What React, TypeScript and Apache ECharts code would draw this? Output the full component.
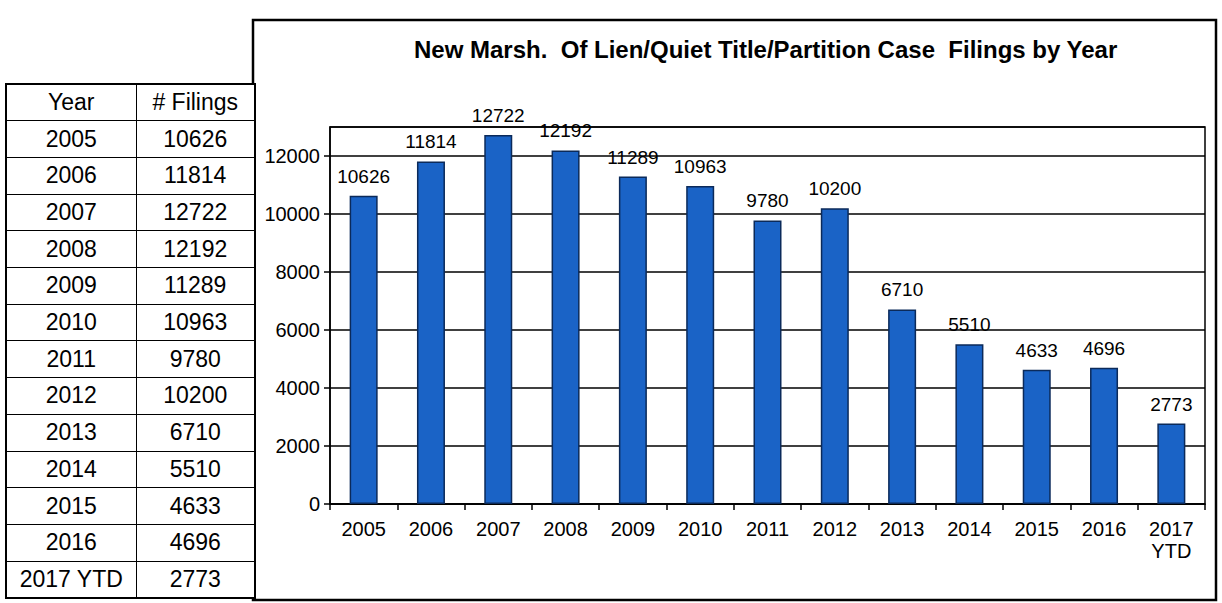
import React, { useEffect, useRef } from "react";
import * as echarts from "echarts";

const years = ["2005", "2006", "2007", "2008", "2009", "2010", "2011", "2012", "2013", "2014", "2015", "2016", "2017 YTD"];
const axisYears = ["2005", "2006", "2007", "2008", "2009", "2010", "2011", "2012", "2013", "2014", "2015", "2016", "2017\nYTD"];
const filings = [10626, 11814, 12722, 12192, 11289, 10963, 9780, 10200, 6710, 5510, 4633, 4696, 2773];
const titleText = "New Marsh.  Of Lien/Quiet Title/Partition Case  Filings by Year";
const tableHeader = ["Year", "# Filings"];

const FONT = "'Liberation Sans', Arial, sans-serif";

export default function App() {
  const ref = useRef<HTMLDivElement>(null);
  useEffect(() => {
    if (!ref.current) return;
    const chart = echarts.init(ref.current, undefined, { renderer: "svg" });
    chart.setOption({
      animation: false,
      backgroundColor: "#fff",
      textStyle: { fontFamily: FONT },
      graphic: [
        {
          type: "rect",
          shape: { x: 253, y: 20, width: 963, height: 580 },
          style: { fill: "none", stroke: "#000", lineWidth: 2.5 },
          z: 0,
        },
        {
          type: "text",
          x: 414,
          y: 49,
          style: {
            text: titleText,
            font: `bold 24px ${FONT}`,
            fill: "#000",
            textAlign: "left",
            textVerticalAlign: "middle",
          },
        },
      ],
      grid: {
        left: 330,
        right: 17,
        top: 127,
        bottom: 99,
        show: true,
        borderColor: "#000",
        borderWidth: 1.5,
        backgroundColor: "transparent",
      },
      xAxis: {
        type: "category",
        data: axisYears,
        axisLine: { lineStyle: { color: "#000", width: 1.5 } },
        axisTick: { show: true, length: 6, lineStyle: { color: "#000", width: 1.5 } },
        axisLabel: { color: "#000", fontSize: 20, margin: 14, fontFamily: FONT, lineHeight: 22 },
      },
      yAxis: {
        type: "value",
        min: 0,
        max: 13000,
        interval: 2000,
        axisLine: { show: true, lineStyle: { color: "#000", width: 1.5 } },
        axisTick: { show: true, length: 6, lineStyle: { color: "#000", width: 1.5 } },
        axisLabel: {
          color: "#000",
          fontSize: 20,
          margin: 10,
          showMaxLabel: false,
          fontFamily: FONT,
          formatter: (v: number) => String(v),
        },
        splitLine: { lineStyle: { color: "#000", width: 1.5 } },
      },
      series: [
        {
          type: "bar",
          data: filings,
          barWidth: 28,
          itemStyle: { color: "#1a63c6", borderColor: "#0b2a5a", borderWidth: 1.5 },
          label: {
            show: true,
            position: "top",
            distance: 10,
            color: "#000",
            fontSize: 19,
            fontFamily: FONT,
          },
        },
      ],
    });
    return () => chart.dispose();
  }, []);

  const rowH = 514 / 14;
  const cellBase: React.CSSProperties = {
    height: rowH,
    boxSizing: "border-box",
    textAlign: "center",
    fontSize: 23,
    fontFamily: FONT,
    color: "#000",
    padding: 0,
    verticalAlign: "middle",
    borderBottom: "1.5px solid #000",
    whiteSpace: "nowrap",
  };

  return (
    <div style={{ position: "fixed", left: 0, top: 0, width: 1222, height: 603, background: "#fff" }}>
      <div ref={ref} style={{ position: "absolute", left: 0, top: 0, width: 1222, height: 603 }} />
      <table
        style={{
          position: "absolute",
          left: 5,
          top: 83,
          width: 249,
          height: 514,
          borderCollapse: "collapse",
          border: "2.5px solid #000",
          background: "#fff",
          tableLayout: "fixed",
        }}
      >
        <colgroup>
          <col style={{ width: 130 }} />
          <col style={{ width: 119 }} />
        </colgroup>
        <tbody>
          <tr>
            <td style={{ ...cellBase, borderRight: "1.5px solid #000" }}>{tableHeader[0]}</td>
            <td style={cellBase}>{tableHeader[1]}</td>
          </tr>
          {years.map((y, i) => (
            <tr key={y}>
              <td style={{ ...cellBase, borderRight: "1.5px solid #000" }}>{y}</td>
              <td style={cellBase}>{filings[i]}</td>
            </tr>
          ))}
        </tbody>
      </table>
    </div>
  );
}
